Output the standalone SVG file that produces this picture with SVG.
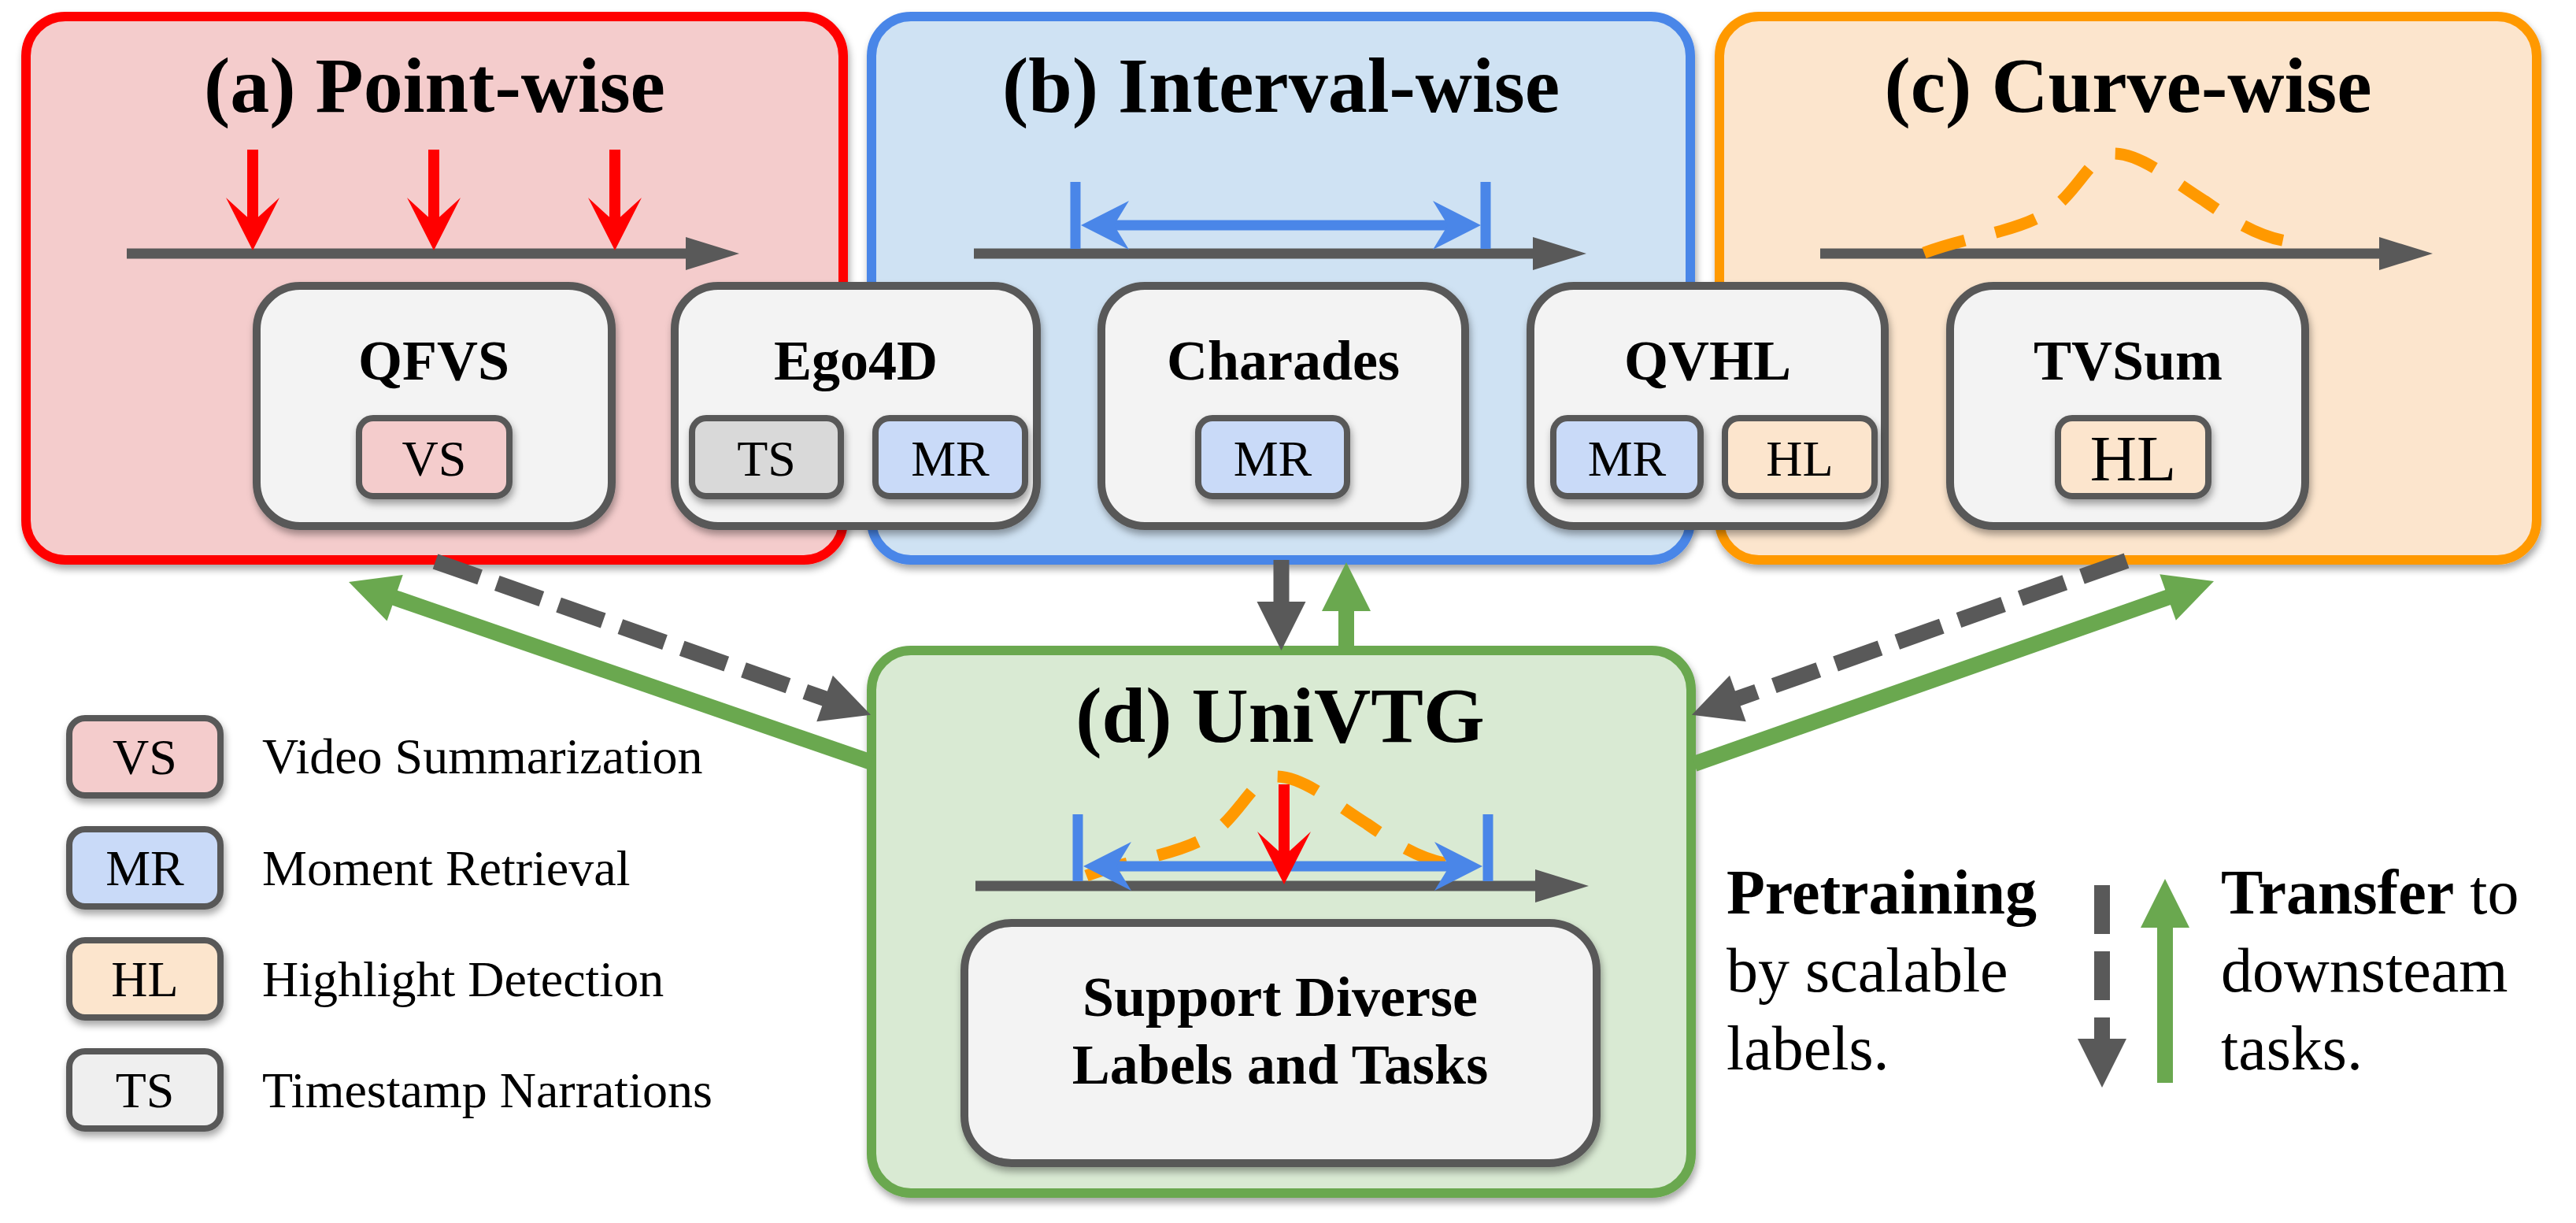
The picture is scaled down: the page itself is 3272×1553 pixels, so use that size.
<svg xmlns="http://www.w3.org/2000/svg" width="3272" height="1553" viewBox="0 0 3272 1553">
<defs>
<style>
.title{font-family:"Liberation Serif","Times New Roman",serif;font-weight:bold;font-size:100px;text-anchor:middle}
.ds{font-family:"Liberation Serif","Times New Roman",serif;font-weight:bold;font-size:72px;text-anchor:middle}
.tagt{font-family:"Liberation Serif","Times New Roman",serif;font-size:64px;text-anchor:middle}
.big{font-size:82px}
.leg{font-family:"Liberation Serif","Times New Roman",serif;font-size:64px}
.rl{font-family:"Liberation Serif","Times New Roman",serif;font-size:80px}
.bold{font-weight:bold}
.box{fill:#f3f3f3;stroke:#595959;stroke-width:10}
.tag{stroke:#595959;stroke-width:8}
.vs{fill:#f4cccc}.mr{fill:#c9daf8}.hl{fill:#fce5cd}.ts{fill:#d9d9d9}.tsl{fill:#efefef}
.tl{stroke:#595959;stroke-width:13;fill:none}
.blue{stroke:#4a86e8;stroke-width:13;fill:none}
.red{stroke:#ff0000;stroke-width:14;fill:none}
.curve{stroke:#ff9900;stroke-width:15;fill:none;stroke-dasharray:54 40}
.gd{stroke:#595959;stroke-width:20;fill:none;stroke-dasharray:60 23}
.gs{stroke:#595959;stroke-width:20;fill:none}
.gr{stroke:#6aa84f;stroke-width:20;fill:none}
</style>
<filter id="sh" x="-10%" y="-10%" width="125%" height="135%">
<feDropShadow dx="2" dy="6" stdDeviation="5" flood-color="#000" flood-opacity="0.35"/>
</filter>
<marker id="mt" markerUnits="userSpaceOnUse" markerWidth="70" markerHeight="44" refX="1" refY="21" orient="auto" overflow="visible">
<path d="M0,0 L68,21 L0,42 z" fill="#595959"/>
</marker>
<marker id="mg" markerUnits="userSpaceOnUse" markerWidth="64" markerHeight="64" refX="1" refY="31" orient="auto" overflow="visible">
<path d="M0,0 L62,31 L0,62 z" fill="#595959"/>
</marker>
<marker id="mgr" markerUnits="userSpaceOnUse" markerWidth="64" markerHeight="64" refX="1" refY="31" orient="auto" overflow="visible">
<path d="M0,0 L62,31 L0,62 z" fill="#6aa84f"/>
</marker>
<marker id="mr" markerUnits="userSpaceOnUse" markerWidth="70" markerHeight="70" refX="31" refY="34" orient="auto" overflow="visible">
<path d="M0,0 L67,34 L0,68 L31,34 z" fill="#ff0000"/>
</marker>
<marker id="mb" markerUnits="userSpaceOnUse" markerWidth="64" markerHeight="64" refX="19" refY="31" orient="auto-start-reverse" overflow="visible">
<path d="M0,0 L61,31 L0,62 L19,31 z" fill="#4a86e8"/>
</marker>
<path id="bell" d="M0,0 C56,-21 116,-26 156,-51 C196,-76 211,-126 241,-126 C276,-126 316,-91 356,-66 C406,-31 436,-16 476,-13"/>
</defs>

<rect width="3272" height="1553" fill="#ffffff"/>

<g id="panel-a">
<rect x="33" y="21" width="1038" height="690" rx="50" fill="#f4cccc" stroke="#ff0000" stroke-width="12" filter="url(#sh)"/>
<text class="title" x="552" y="142">(a) Point-wise</text>
<line class="tl" x1="161" y1="322" x2="872" y2="322" marker-end="url(#mt)"/>
<line class="red" x1="321" y1="190" x2="321" y2="282" marker-end="url(#mr)"/>
<line class="red" x1="551" y1="190" x2="551" y2="282" marker-end="url(#mr)"/>
<line class="red" x1="781" y1="190" x2="781" y2="282" marker-end="url(#mr)"/>
</g>

<g id="panel-b">
<rect x="1107" y="21" width="1040" height="690" rx="50" fill="#cfe2f3" stroke="#4a86e8" stroke-width="12" filter="url(#sh)"/>
<text class="title" x="1627" y="142">(b) Interval-wise</text>
<line class="tl" x1="1237" y1="322" x2="1948" y2="322" marker-end="url(#mt)"/>
<line class="blue" x1="1366" y1="231" x2="1366" y2="316"/>
<line class="blue" x1="1887" y1="231" x2="1887" y2="316"/>
<line class="blue" x1="1415" y1="286" x2="1839" y2="286" stroke-width="14" marker-start="url(#mb)" marker-end="url(#mb)"/>
</g>

<g id="panel-c">
<rect x="2184" y="21" width="1038" height="690" rx="50" fill="#fce5cd" stroke="#ff9900" stroke-width="12" filter="url(#sh)"/>
<text class="title" x="2703" y="142">(c) Curve-wise</text>
<line class="tl" x1="2312" y1="322" x2="3023" y2="322" marker-end="url(#mt)"/>
<use href="#bell" class="curve" transform="translate(2444,321)"/>
</g>

<g id="qfvs">
<rect class="box" x="326" y="363" width="451" height="305" rx="55" filter="url(#sh)"/>
<text class="ds" x="551" y="482">QFVS</text>
<rect class="tag vs" x="456" y="531" width="191" height="99" rx="18" filter="url(#sh)"/>
<text class="tagt" x="551.5" y="604">VS</text>
</g>

<g id="ego4d">
<rect class="box" x="857" y="363" width="460" height="305" rx="55" filter="url(#sh)"/>
<text class="ds" x="1087" y="482">Ego4D</text>
<rect class="tag ts" x="879" y="531" width="189" height="99" rx="18" filter="url(#sh)"/>
<text class="tagt" x="973.5" y="604">TS</text>
<rect class="tag mr" x="1112" y="531" width="190" height="99" rx="18" filter="url(#sh)"/>
<text class="tagt" x="1207" y="604">MR</text>
</g>

<g id="charades">
<rect class="box" x="1399" y="363" width="462" height="305" rx="55" filter="url(#sh)"/>
<text class="ds" x="1630" y="482">Charades</text>
<rect class="tag mr" x="1522" y="531" width="189" height="99" rx="18" filter="url(#sh)"/>
<text class="tagt" x="1616.5" y="604">MR</text>
</g>

<g id="qvhl">
<rect class="box" x="1944" y="363" width="450" height="305" rx="55" filter="url(#sh)"/>
<text class="ds" x="2169" y="482">QVHL</text>
<rect class="tag mr" x="1973" y="531" width="187" height="99" rx="18" filter="url(#sh)"/>
<text class="tagt" x="2066.5" y="604">MR</text>
<rect class="tag hl" x="2191" y="531" width="190" height="99" rx="18" filter="url(#sh)"/>
<text class="tagt" x="2286" y="604">HL</text>
</g>

<g id="tvsum">
<rect class="box" x="2477" y="363" width="451" height="305" rx="55" filter="url(#sh)"/>
<text class="ds" x="2703" y="482">TVSum</text>
<rect class="tag hl" x="2614" y="531" width="191" height="99" rx="18" filter="url(#sh)"/>
<text class="tagt big" x="2709.5" y="610">HL</text>
</g>

<g id="panel-d">
<rect x="1107" y="826" width="1041" height="689" rx="50" fill="#d9ead3" stroke="#6aa84f" stroke-width="12" filter="url(#sh)"/>
<text class="title" x="1626" y="942">(d) UniVTG</text>
<line class="tl" x1="1239" y1="1125" x2="1951" y2="1125" marker-end="url(#mt)"/>
<use href="#bell" class="curve" transform="translate(1380,1112)"/>
<line class="blue" x1="1369" y1="1034" x2="1369" y2="1119"/>
<line class="blue" x1="1890" y1="1034" x2="1890" y2="1119"/>
<line class="blue" x1="1418" y1="1100" x2="1841" y2="1100" stroke-width="14" marker-start="url(#mb)" marker-end="url(#mb)"/>
<line class="red" x1="1631" y1="996" x2="1631" y2="1087" marker-end="url(#mr)"/>
</g>

<g id="support">
<rect class="box" x="1225" y="1172" width="803" height="305" rx="60" filter="url(#sh)"/>
<text class="ds" x="1626" y="1290">Support Diverse</text>
<text class="ds" x="1626" y="1376">Labels and Tasks</text>
</g>

<g id="connectors">
<line class="gd" x1="553" y1="713" x2="1048.5" y2="887.4" marker-end="url(#mg)"/>
<line class="gr" x1="1107" y1="968" x2="500.7" y2="758.9" marker-end="url(#mgr)"/>
<line class="gd" x1="2701" y1="712" x2="2206.4" y2="887.3" marker-end="url(#mg)"/>
<line class="gr" x1="2152" y1="970" x2="2754.5" y2="758.2" marker-end="url(#mgr)"/>
<line class="gs" x1="1627.5" y1="711" x2="1627.5" y2="765" marker-end="url(#mg)"/>
<line class="gr" x1="1710" y1="826" x2="1710" y2="775" marker-end="url(#mgr)"/>
</g>

<g id="legend">
<rect class="tag vs" x="88" y="912" width="192" height="98" rx="20" filter="url(#sh)"/>
<text class="tagt" x="184" y="983">VS</text>
<text class="leg" x="333" y="982">Video Summarization</text>
<rect class="tag mr" x="88" y="1053" width="192" height="98" rx="20" filter="url(#sh)"/>
<text class="tagt" x="184" y="1124">MR</text>
<text class="leg" x="333" y="1124">Moment Retrieval</text>
<rect class="tag hl" x="88" y="1194" width="192" height="98" rx="20" filter="url(#sh)"/>
<text class="tagt" x="184" y="1265">HL</text>
<text class="leg" x="333" y="1265">Highlight Detection</text>
<rect class="tag tsl" x="88" y="1335" width="192" height="98" rx="20" filter="url(#sh)"/>
<text class="tagt" x="184" y="1406">TS</text>
<text class="leg" x="333" y="1406">Timestamp Narrations</text>
</g>

<g id="legend-arrows">
<text class="rl bold" x="2193" y="1160">Pretraining</text>
<text class="rl" x="2193" y="1259">by scalable</text>
<text class="rl" x="2193" y="1358">labels.</text>
<line class="gd" x1="2670" y1="1124" x2="2670" y2="1320" style="stroke-dasharray:62 22" marker-end="url(#mg)"/>
<line class="gr" x1="2750" y1="1375" x2="2750" y2="1177" marker-end="url(#mgr)"/>
<text class="rl" x="2821" y="1160"><tspan class="bold">Transfer</tspan> to</text>
<text class="rl" x="2821" y="1259">downsteam</text>
<text class="rl" x="2821" y="1358">tasks.</text>
</g>
</svg>
